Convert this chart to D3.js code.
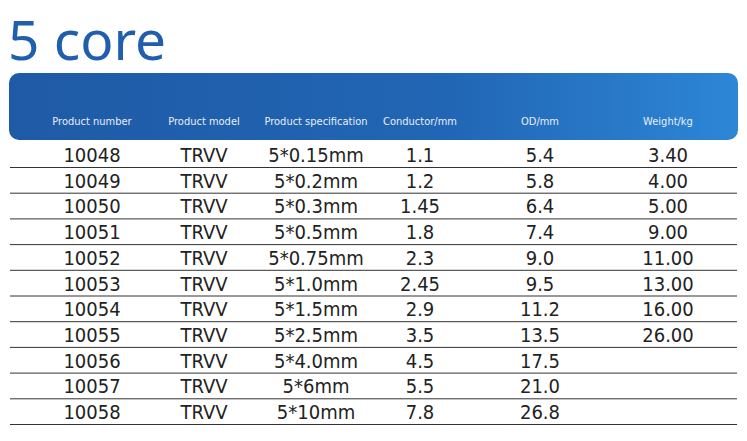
<!DOCTYPE html>
<html><head><meta charset="utf-8">
<script src="https://cdn.jsdelivr.net/npm/d3@7"></script>
<style>body{margin:0;background:#fff}</style>
</head><body>
<svg id="chart" width="747" height="441"></svg>
<script>
const headers = ["Product number", "Product model", "Product specification", "Conductor/mm", "OD/mm", "Weight/kg"]
const numbers = ["10048","10049","10050","10051","10052","10053","10054","10055","10056","10057","10058"]
const models = numbers.map(() => "TRVV")
const specs = ["5*0.15mm","5*0.2mm","5*0.3mm","5*0.5mm","5*0.75mm","5*1.0mm","5*1.5mm","5*2.5mm","5*4.0mm","5*6mm","5*10mm"]
const conductor = ["1.1","1.2","1.45","1.8","2.3","2.45","2.9","3.5","4.5","5.5","7.8"]
const od = ["5.4","5.8","6.4","7.4","9.0","9.5","11.2","13.5","17.5","21.0","26.8"]
const weight = ["3.40","4.00","5.00","9.00","11.00","13.00","16.00","26.00","","",""]

let svg = d3.select("#chart")
let columns = [numbers, models, specs, conductor, od, weight]

let xc = [92, 204, 316, 420, 540, 668]
let y = d3.scaleLinear().domain([0, 10]).range([155, 412])

svg.append("text").attr("x", 8).attr("y", 60)
    .style("font-family", "Noto Sans").style("font-size", "55px")
    .style("fill", "#1f5fae").text("5 core")

let grad = svg.append("defs").append("linearGradient").attr("id", "hg")
    .attr("x1", 0).attr("x2", 1).attr("y1", 0).attr("y2", 0)
grad.append("stop").attr("offset", "0%").attr("stop-color", "#1f5aa6")
grad.append("stop").attr("offset", "60%").attr("stop-color", "#2166b4")
grad.append("stop").attr("offset", "100%").attr("stop-color", "#2d86d6")

svg.append("rect").attr("x", 9).attr("y", 73).attr("width", 729).attr("height", 67)
    .attr("rx", 10).style("fill", "url(#hg)")

svg.selectAll(".hdr").data(headers).join("text")
    .attr("x", (d, i) => xc[i]).attr("y", 125)
    .attr("text-anchor", "middle")
    .style("font-family", "Liberation Sans Narrow, DejaVu Sans Condensed, sans-serif")
    .style("font-size", "11px").style("fill", "#e8eef7").text(d => d)

svg.selectAll(".sep").data(numbers).join("line")
    .attr("x1", 10).attr("x2", 737)
    .attr("y1", (d, i) => y(i) + 12.5).attr("y2", (d, i) => y(i) + 12.5)
    .style("stroke", "#333").style("stroke-width", 1)

columns.forEach(function (col, c) {
    svg.append("g").selectAll("text").data(col).join("text")
        .attr("x", xc[c]).attr("y", (d, i) => y(i) + 7)
        .attr("text-anchor", "middle")
        .style("font-family", "DejaVu Sans Condensed, DejaVu Sans")
        .style("font-size", "20px").style("fill", "#222").text(d => d)
})
</script>
</body></html>
